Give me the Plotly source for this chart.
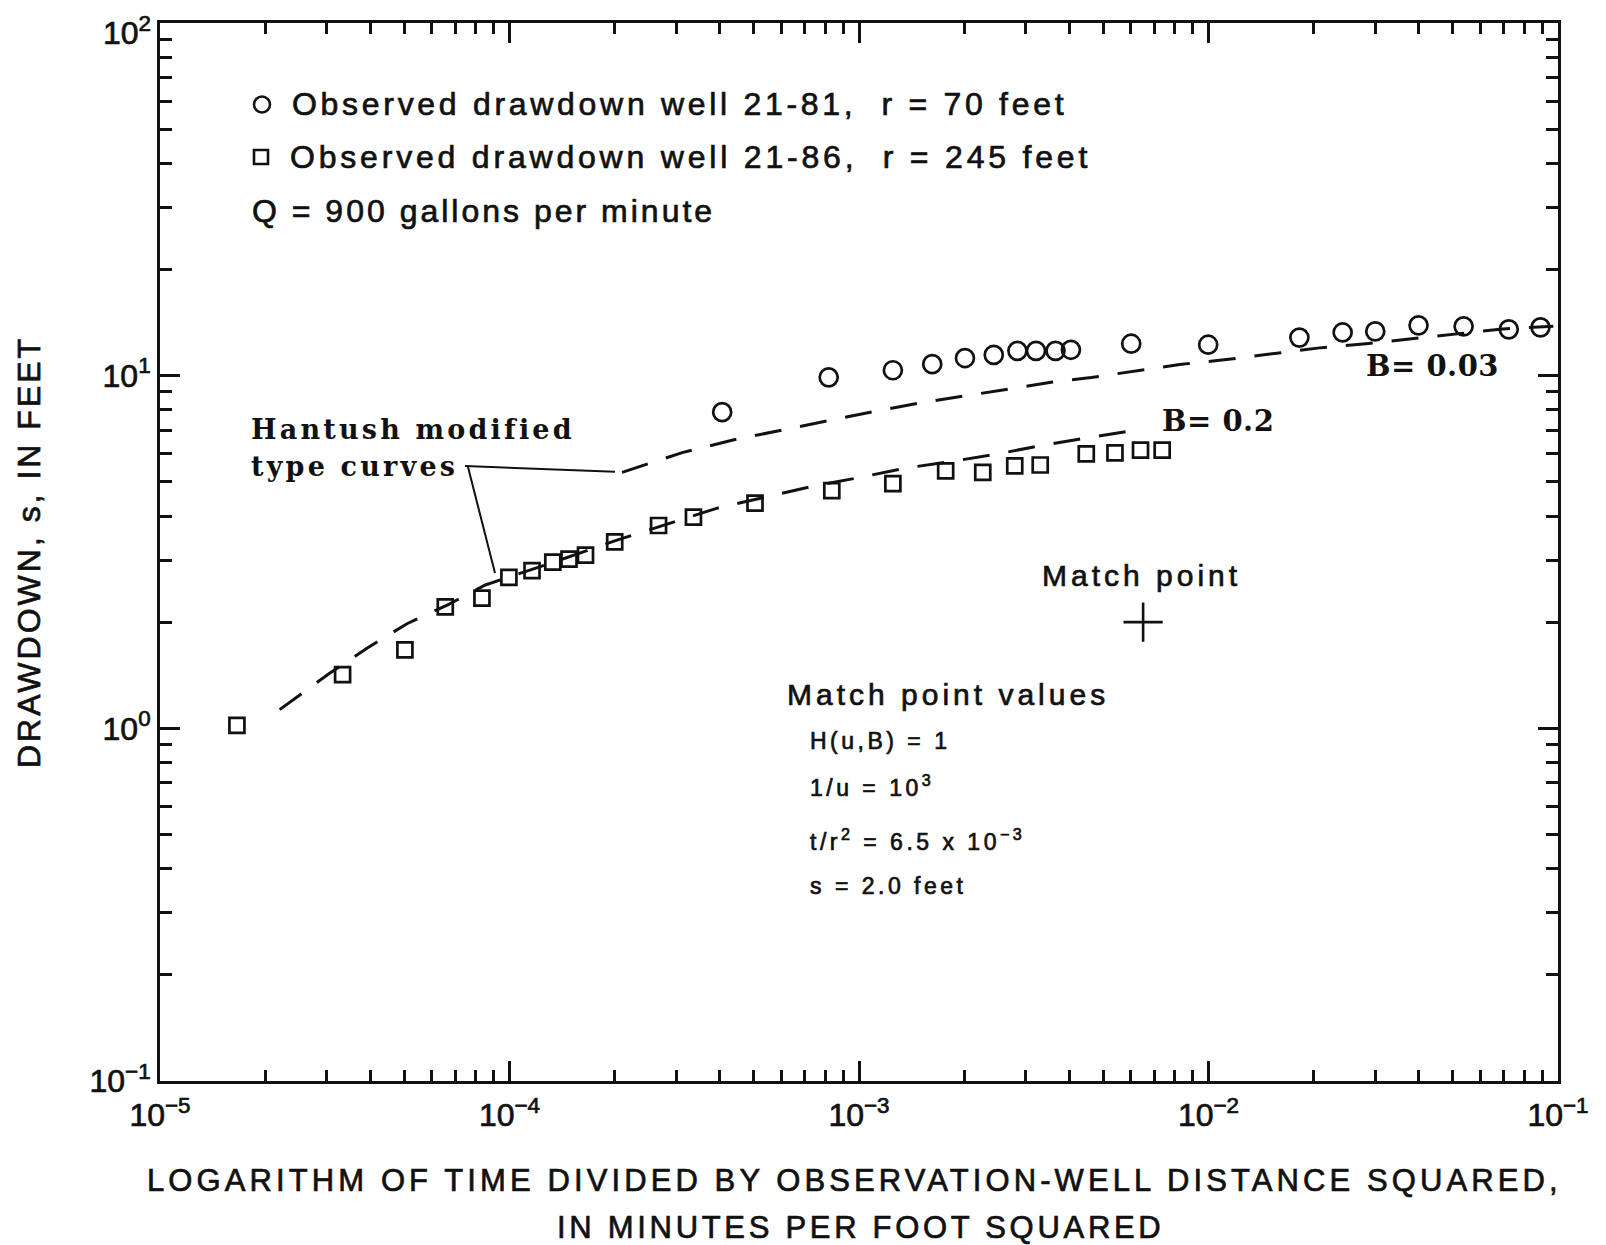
import plotly.graph_objects as go

# ---------------- data ----------------
# Observed drawdown, well 21-81 (r = 70 ft)  -> open circles
t_r2_well_81 = [4.06e-4, 8.19e-4, 1.25e-3, 1.62e-3, 2.01e-3, 2.43e-3, 2.84e-3,
                3.21e-3, 3.65e-3, 4.04e-3, 6.01e-3, 9.98e-3, 1.82e-2, 2.42e-2,
                3.00e-2, 3.99e-2, 5.37e-2, 7.23e-2, 8.91e-2]
s_well_81 = [7.88, 9.89, 10.36, 10.78, 11.22, 11.45, 11.76, 11.76, 11.76, 11.84,
             12.32, 12.24, 12.82, 13.26, 13.35, 13.89, 13.80, 13.53, 13.71]

# Observed drawdown, well 21-86 (r = 245 ft)  -> open squares
t_r2_well_86 = [1.66e-5, 3.33e-5, 5.02e-5, 6.55e-5, 8.34e-5, 9.96e-5, 1.16e-4,
                1.33e-4, 1.48e-4, 1.65e-4, 2.00e-4, 2.67e-4, 3.36e-4, 5.04e-4,
                8.36e-4, 1.25e-3, 1.77e-3, 2.26e-3, 2.79e-3, 3.30e-3, 4.47e-3,
                5.40e-3, 6.39e-3, 7.37e-3]
s_well_86 = [1.02, 1.42, 1.67, 2.21, 2.34, 2.68, 2.80, 2.96, 3.02, 3.10, 3.38,
             3.76, 3.97, 4.35, 4.72, 4.94, 5.37, 5.32, 5.55, 5.58, 6.00, 6.04,
             6.15, 6.15]

# Hantush modified type curve, B = 0.03
curve_b003_x = [2.10e-4, 3.12e-4, 4.36e-4, 6.06e-4, 8.30e-4, 1.12e-3, 1.51e-3,
                2.07e-3, 2.75e-3, 3.58e-3, 4.62e-3, 6.10e-3, 8.27e-3, 1.125e-2,
                1.56e-2, 2.08e-2, 2.82e-2, 3.84e-2, 5.22e-2, 6.95e-2, 9.70e-2]
curve_b003_y = [5.32, 6.05, 6.57, 7.03, 7.50, 7.94, 8.38, 8.80, 9.18, 9.59, 9.88,
                10.30, 10.76, 11.11, 11.60, 11.99, 12.31, 12.74, 13.19, 13.57, 13.80]

# Hantush modified type curve, B = 0.2
curve_b02_x = [2.20e-5, 3.05e-5, 3.92e-5, 5.09e-5, 6.66e-5, 8.53e-5, 1.30e-4,
               2.00e-4, 3.93e-4, 5.65e-4, 7.31e-4, 1.00e-3, 1.36e-3, 1.82e-3,
               2.47e-3, 3.28e-3, 4.35e-3, 6.28e-3]
curve_b02_y = [1.13, 1.43, 1.69, 1.98, 2.24, 2.55, 2.93, 3.40, 4.21, 4.58, 4.85,
               5.14, 5.47, 5.70, 5.99, 6.32, 6.63, 7.02]

# Match point
match_x = [6.5e-3]
match_y = [2.0]

# Axis ticks (the top y label, 10^2, is drawn as a text below so it stays on the page)
x_tickvals = [1e-5, 1e-4, 1e-3, 1e-2, 1e-1]
x_tickexp = ["\u22125", "\u22124", "\u22123", "\u22122", "\u22121"]
y_tickvals = [1e-1, 1e0, 1e1, 1e2]
y_tickexp = ["\u22121", "0", "1", None]
y_top_exp = "2"

# ---------------- layout helpers ----------------
OFF = 8                                   # page body margin of the html page
W, H = 1606 - OFF, 1245 - OFF
PL, PR, PT, PB = 160, 1558, 23, 1081      # plot-area edges (screen pixels)

SANS = "Liberation Sans, Arial, Helvetica, sans-serif"
SERIF = "DejaVu Serif, Liberation Serif, serif"
BLACK = "#111111"
HEAVY = "stroke:#111111;stroke-width:0.7px"


def px(x):
    return (x - PL) / (PR - PL)


def py(y):
    return (PB - y) / (PB - PT)


def styled(text, sp, heavy=True):
    st = f"letter-spacing:{sp}px"
    if heavy:
        st += ";" + HEAVY
    return f'<span style="{st}">{text}</span>'


def power_label(e):
    if e is None:
        return ""
    return f'<span style="{HEAVY}">10<sup>{e}</sup></span>'


minor_x = [m * 10 ** e for e in range(-5, -1) for m in range(2, 10)]
minor_y = [m * 10 ** e for e in range(-1, 2) for m in range(2, 10)]

fig = go.Figure()

fig.add_trace(go.Scatter(x=curve_b003_x, y=curve_b003_y, mode="lines",
                         line=dict(color=BLACK, width=3, dash="27px,19px"),
                         showlegend=False, hoverinfo="skip"))
fig.add_trace(go.Scatter(x=curve_b02_x, y=curve_b02_y, mode="lines",
                         line=dict(color=BLACK, width=3, dash="27px,19px"),
                         showlegend=False, hoverinfo="skip"))
fig.add_trace(go.Scatter(x=t_r2_well_81, y=s_well_81, mode="markers",
                         marker=dict(symbol="circle-open", size=18, color=BLACK,
                                     line=dict(width=2.7, color=BLACK)),
                         name="Observed drawdown well 21-81", showlegend=False))
fig.add_trace(go.Scatter(x=t_r2_well_86, y=s_well_86, mode="markers",
                         marker=dict(symbol="square-open", size=15, color=BLACK,
                                     line=dict(width=2.7, color=BLACK)),
                         name="Observed drawdown well 21-86", showlegend=False))
fig.add_trace(go.Scatter(x=match_x, y=match_y, mode="markers",
                         marker=dict(symbol="cross-thin-open", size=28, color=BLACK,
                                     line=dict(width=2.6, color=BLACK)),
                         name="Match point", showlegend=False))

axis_common = dict(
    type="log", showline=True, linewidth=3, linecolor=BLACK, mirror="allticks",
    ticks="inside", ticklen=20, tickwidth=2.5, tickcolor=BLACK,
    showgrid=False, zeroline=False, ticklabeloverflow="allow",
    tickfont=dict(family=SANS, size=32, color=BLACK),
)

fig.update_xaxes(**axis_common, range=[-5, -1], tickmode="array",
                 tickvals=x_tickvals, ticktext=[power_label(e) for e in x_tickexp],
                 ticklabelstandoff=4,
                 minor=dict(tickmode="array", tickvals=minor_x, ticks="inside",
                            ticklen=11, tickwidth=2.5, tickcolor=BLACK, showgrid=False))
fig.update_yaxes(**axis_common, range=[-1, 2], tickmode="array",
                 tickvals=y_tickvals, ticktext=[power_label(e) for e in y_tickexp],
                 minor=dict(tickmode="array", tickvals=minor_y, ticks="inside",
                            ticklen=12, tickwidth=2.5, tickcolor=BLACK, showgrid=False))

ann = []


def add_text(text, x, y, size, family=SANS, xanchor="left", angle=0, sp=3, heavy=True):
    ann.append(dict(text=styled(text, sp, heavy), x=px(x), y=py(y),
                    xref="paper", yref="paper",
                    xanchor=xanchor, yanchor="middle", showarrow=False, textangle=angle,
                    font=dict(family=family, size=size, color=BLACK)))


# top y-axis label, nudged down inside the page as in the reference
ann.append(dict(text=power_label(y_top_exp), x=px(153), y=py(31), xref="paper",
                yref="paper", xanchor="right", yanchor="middle", showarrow=False,
                font=dict(family=SANS, size=32, color=BLACK)))

# key text block
add_text("Observed drawdown well 21-81,  r = 70 feet", 290, 104, 32, sp=3.7)
add_text("Observed drawdown well 21-86,  r = 245 feet", 288, 157, 32, sp=3.8)
add_text("Q = 900 gallons per minute", 250, 211, 32, sp=3)

# type-curve labels
add_text("<b>Hantush modified</b>", 249, 429, 27, family=SERIF, sp=3.2, heavy=False)
add_text("<b>type curves</b>", 249, 466, 27, family=SERIF, sp=3.2, heavy=False)
add_text("<b>B= 0.03</b>", 1364, 366, 29, family=SERIF, sp=0.5, heavy=False)
add_text("<b>B= 0.2</b>", 1160, 421, 29, family=SERIF, sp=0.5, heavy=False)

# match point block
add_text("Match point", 1141, 575, 30, xanchor="center", sp=4)
add_text("Match point values", 785, 694, 30, sp=4)
add_text("H(u,B) = 1", 808, 741, 23, sp=3.5)
add_text("1/u = 10<sup>3</sup>", 808, 786, 23, sp=3.5)
add_text("t/r<sup>2</sup> = 6.5 x 10<sup>\u22123</sup>", 808, 840, 23, sp=3.5)
add_text("s = 2.0 feet", 808, 886, 23, sp=3.5)

# axis titles
add_text("LOGARITHM OF TIME DIVIDED BY OBSERVATION-WELL DISTANCE SQUARED,",
         854, 1180, 31, xanchor="center", sp=4.1)
add_text("IN MINUTES PER FOOT SQUARED", 861, 1227, 31, xanchor="center", sp=3.7)
add_text("DRAWDOWN, s, IN FEET", 29, 552, 32, xanchor="center", angle=-90, sp=3)

line_style = dict(color=BLACK, width=2)
shapes = [
    # key symbols
    dict(type="circle", xref="paper", yref="paper", x0=px(254), x1=px(270),
         y0=py(96.5), y1=py(112.5), line=dict(color=BLACK, width=2.6)),
    dict(type="rect", xref="paper", yref="paper", x0=px(254), x1=px(268),
         y0=py(150), y1=py(164), line=dict(color=BLACK, width=2.6)),
    # leader lines from the "type curves" label
    dict(type="line", xref="paper", yref="paper", x0=px(465), y0=py(466),
         x1=px(615), y1=py(471.7), line=line_style),
    dict(type="line", xref="paper", yref="paper", x0=px(468), y0=py(467),
         x1=px(495), y1=py(573), line=line_style),
]

fig.update_layout(
    width=W, height=H,
    margin=dict(l=PL - OFF, r=1606 - PR, t=PT - OFF, b=1245 - PB, autoexpand=False),
    paper_bgcolor="white", plot_bgcolor="white",
    annotations=ann, shapes=shapes, showlegend=False,
)

fig.write_html("out.html")
